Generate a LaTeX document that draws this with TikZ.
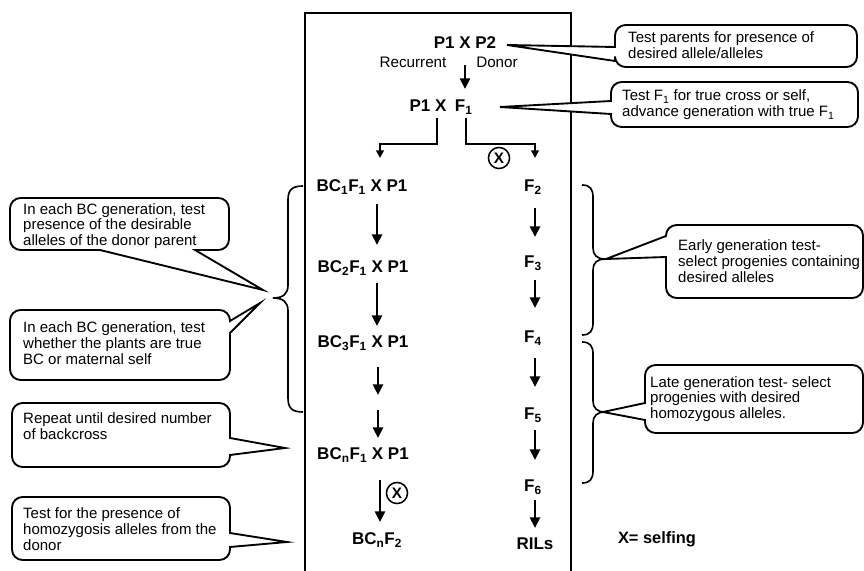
\documentclass[tikz,border=0pt]{standalone}
\usepackage{fontspec}
\setmainfont{Liberation Sans}
\usetikzlibrary{arrows.meta}
\newcommand\sbs[1]{\textsubscript{#1}}
\begin{document}
\begin{tikzpicture}[x=0.03cm,y=-0.03cm,
  lbl/.style={font=\fontsize{14.5}{16}\selectfont\bfseries, inner sep=0pt},
  txt/.style={font=\fontsize{12.8}{13.5}\selectfont, inner sep=0pt, align=left, anchor=west},
  arr/.style={line width=2.5pt, -{Triangle[length=9pt,width=8.5pt]}},
  sarr/.style={line width=2pt, -{Triangle[length=6.5pt,width=6.5pt]}},
  cbox/.style={line width=1.6pt, fill=white, line join=miter},
  brace/.style={line width=1.4pt},
  selfc/.style={circle, draw, line width=1.3pt, minimum size=18pt, inner sep=0pt, font=\fontsize{13}{13}\selectfont\bfseries}]
\useasboundingbox (0,0) rectangle (864,571);
% frame
\draw[line width=1.3pt] (305,571) -- (305,13) -- (571,13) -- (571,571);

% labels
\node[lbl] (p1p2) at (465,43) {P1 X P2};
\node[font=\fontsize{13}{14}\selectfont, inner sep=0pt] (rec) at (413,62) {Recurrent};
\node[font=\fontsize{13}{14}\selectfont, inner sep=0pt] (don) at (497,62) {Donor};
\node[lbl] (p1f1) at (441,107) {P1 X\enspace F\sbs{1}};
\node[lbl] (bc1) at (362,187) {BC\sbs{1}F\sbs{1} X P1};
\node[lbl] (bc2) at (363,268) {BC\sbs{2}F\sbs{1} X P1};
\node[lbl] (bc3) at (363,343) {BC\sbs{3}F\sbs{1} X P1};
\node[lbl] (bcn) at (363,455) {BC\sbs{n}F\sbs{1} X P1};
\node[lbl] (bcnf2) at (377,540) {BC\sbs{n}F\sbs{2}};
\node[lbl] (f2) at (533,187) {F\sbs{2}};
\node[lbl] (f3) at (533,263) {F\sbs{3}};
\node[lbl] (f4) at (533,338) {F\sbs{4}};
\node[lbl] (f5) at (533,415) {F\sbs{5}};
\node[lbl] (f6) at (533,487) {F\sbs{6}};
\node[lbl] (rils) at (535,544) {RILs};
\node[font=\fontsize{14}{15}\selectfont\bfseries, inner sep=0pt] (key) at (657,539) {X= selfing};

% top arrow
\draw[arr] (465,65) -- (465,89);
% branches
\coordinate (brL) at (437,118);
\coordinate (brR) at (466,118);
\coordinate (endL) at (380,158);
\coordinate (endR) at (535,158);
\draw[sarr] (brL) -- (437,144) -- (380,144) -- (endL);
\draw[sarr] (brR) -- (466,144) -- (535,144) -- (endR);
\node[selfc] (s1) at (499,158) {X};

% left column arrows
\draw[arr] (377,204) -- (377,245);
\draw[arr] (377,283) -- (377,326);
\draw[arr] (378,367) -- (378,395);
\draw[arr] (378,410) -- (378,438);
\draw[arr] (380,480) -- (380,522);
\node[selfc] (s2) at (397,493) {X};

% right column arrows
\draw[arr] (535,208) -- (535,237);
\draw[arr] (535,280) -- (535,308);
\draw[arr] (535,358) -- (535,387);
\draw[arr] (535,430) -- (535,460);
\draw[arr] (535,500) -- (535,528);

% braces
\draw[brace] (303,186) .. controls (292,186) and (288,190) .. (288,200) -- (288,285)
  .. controls (288,294) and (283,298) .. (273,298)
  .. controls (283,298) and (288,302) .. (288,311) -- (288,398)
  .. controls (288,408) and (292,412) .. (303,412);
\draw[brace] (582,185) .. controls (590,185) and (593,189) .. (593,197) -- (593,248)
  .. controls (593,255) and (597,259) .. (605,259)
  .. controls (597,259) and (593,263) .. (593,270) -- (593,323)
  .. controls (593,331) and (590,335) .. (582,335);
\draw[brace] (582,342) .. controls (590,342) and (593,346) .. (593,354) -- (593,401)
  .. controls (593,408) and (597,412) .. (605,412)
  .. controls (597,412) and (593,416) .. (593,423) -- (593,471)
  .. controls (593,479) and (590,483) .. (582,483);

% callout tips
\coordinate (t1) at (507,45);
\coordinate (t2) at (500,107);
\coordinate (tA) at (263,290);
\coordinate (tB) at (260,303);
\coordinate (tC) at (285,448);
\coordinate (tD) at (287,542);
\coordinate (tE) at (606,259);
\coordinate (tF) at (603,412);

% callouts
\draw[cbox] (t1) -- (615,47) [rounded corners=9pt] -- (615,25) -- (857,25) -- (857,67) -- (615,67) [sharp corners] -- (615,61) -- cycle;
\node[txt] (c1) at (628,45) {Test parents for presence of\\desired allele/alleles};

\draw[cbox] (t2) -- (611,101) [rounded corners=9pt] -- (611,82) -- (858,82) -- (858,127) -- (611,127) [sharp corners] -- (611,114) -- cycle;
\node[txt] (c2) at (622,105) {Test F\sbs{1} for true cross or self,\\advance generation with true F\sbs{1}};

\draw[cbox] (tA) -- (195,250) [rounded corners=9pt] -- (229,250) -- (229,198) -- (10,198) -- (10,250) [sharp corners] -- (100,250) -- cycle;
\node[txt] (cA) at (23,226) {In each BC generation, test\\presence of the desirable\\alleles of the donor parent};

\draw[cbox] (tB) -- (230,333) [rounded corners=9pt] -- (230,380) -- (10,380) -- (10,310) -- (230,310) [sharp corners] -- (230,321) -- cycle;
\node[txt] (cB) at (23,343) {In each BC generation, test\\whether the plants are true\\BC or maternal self};

\draw[cbox] (tC) -- (230,455) [rounded corners=9pt] -- (230,467) -- (12,467) -- (12,403) -- (230,403) [sharp corners] -- (230,438) -- cycle;
\node[txt] (cC) at (23,426) {Repeat until desired number\\of backcross};

\draw[cbox] (tD) -- (230,547) [rounded corners=9pt] -- (230,560) -- (12,560) -- (12,497) -- (230,497) [sharp corners] -- (230,533) -- cycle;
\node[txt] (cD) at (23,529) {Test for the presence of\\homozygosis alleles from the\\donor};

\draw[cbox] (tE) -- (666,236) [rounded corners=9pt] -- (666,225) -- (863,225) -- (863,298) -- (666,298) [sharp corners] -- (666,257) -- cycle;
\node[txt] (cE) at (678,261) {Early generation test-\\select progenies containing\\desired alleles};

\draw[cbox] (tF) -- (645,403) [rounded corners=9pt] -- (645,365) -- (863,365) -- (863,433) -- (645,433) [sharp corners] -- (645,420) -- cycle;
\node[txt] (cF) at (650,399) {Late generation test- select\\progenies with desired\\homozygous alleles.};
\end{tikzpicture}
\end{document}
